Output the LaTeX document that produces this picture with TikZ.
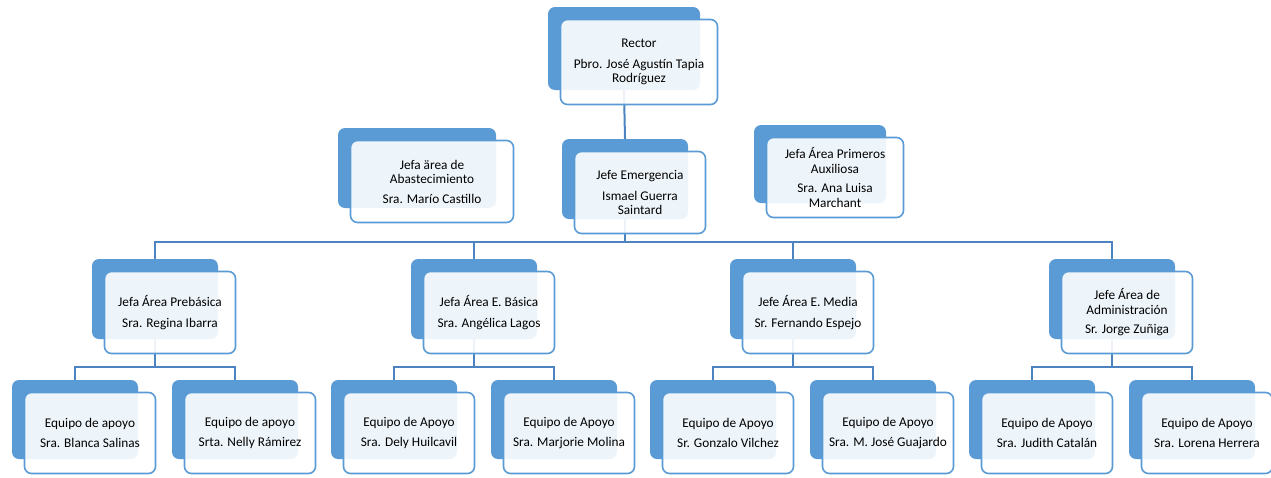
\documentclass[tikz,border=0pt]{standalone}
\usepackage{fontspec}
\setmainfont{Carlito}
\usetikzlibrary{positioning,calc}
\definecolor{orgblue}{RGB}{91,155,213}
\definecolor{linkblue}{RGB}{76,132,194}
\newcommand{\shiftx}{15}
\newcommand{\shifty}{13.5}
\pgfdeclarelayer{background}
\pgfsetlayers{background,main}
% back box, then the lighter box in front carrying the text
\newcommand{\orgunit}[6]{%
  \node[backbox,minimum width=#4pt,minimum height=#5pt] (#1) at (#2,#3) {};
  \node[frontbox,minimum width=#4pt+5pt,minimum height=#5pt+2pt] (#1-f) at ($(#1)+(\shiftx,\shifty)$) {#6};
}

\begin{document}
\begin{tikzpicture}[x=1pt,y=-1pt,
    backbox/.style={rectangle,rounded corners=7pt,fill=orgblue,inner sep=0pt},
    frontbox/.style={rectangle,rounded corners=7pt,draw=orgblue,line width=1.6pt,
      fill=white,fill opacity=0.9,text opacity=1,align=center,inner sep=1pt,
      font=\fontsize{13.3}{14.5}\selectfont},
    link/.style={draw=linkblue,line width=2pt}]
  \useasboundingbox (0,0) rectangle (1271,477);
  %\draw[help lines] (0,0) grid (1271,477);

  % top
  \orgunit{rector}{624}{48.5}{152}{83}{Rector\\[6pt]Pbro. José Agustín Tapia\\Rodríguez}
  \orgunit{abast}{417}{168}{158}{80}{Jefa ärea de\\Abastecimiento\\[5pt]Sra. Marío Castillo}
  \orgunit{emerg}{625}{179}{126}{80}{Jefe Emergencia\\[6pt]Ismael Guerra\\Saintard}
  \orgunit{prim}{820}{164}{132}{78}{Jefa Área Primeros\\Auxiliosa\\[5pt]Sra. Ana Luisa\\Marchant}

  % areas
  \orgunit{pre}{155}{299}{126}{80}{Jefa Área Prebásica\\[6pt]Sra. Regina Ibarra}
  \orgunit{bas}{474}{299}{126}{80}{Jefa Área E. Básica\\[6pt]Sra. Angélica Lagos}
  \orgunit{med}{793}{299}{126}{80}{Jefe Área E. Media\\[6pt]Sr. Fernando Espejo}
  \orgunit{adm}{1112}{299}{126}{80}{Jefe Área de\\Administración\\[5pt]Sr. Jorge Zuñiga}

  % support teams
  \orgunit{preA}{75}{419.5}{126}{79}{Equipo de apoyo\\[5pt]Sra. Blanca Salinas}
  \orgunit{preB}{235}{419.5}{126}{79}{Equipo de apoyo\\[5pt]Srta. Nelly Rámirez}
  \orgunit{basA}{394}{419.5}{126}{79}{Equipo de Apoyo\\[5pt]Sra. Dely Huilcavil}
  \orgunit{basB}{554}{419.5}{126}{79}{Equipo de Apoyo\\[5pt]Sra. Marjorie Molina}
  \orgunit{medA}{713}{419.5}{126}{79}{Equipo de Apoyo\\[5pt]Sr. Gonzalo Vilchez}
  \orgunit{medB}{873}{419.5}{126}{79}{Equipo de Apoyo\\[5pt]Sra. M. José Guajardo}
  \orgunit{admA}{1032}{419.5}{126}{79}{Equipo de Apoyo\\[5pt]Sra. Judith Catalán}
  \orgunit{admB}{1192}{419.5}{126}{79}{Equipo de Apoyo\\[5pt]Sra. Lorena Herrera}

  % connectors
  \begin{pgfonlayer}{background}
    \draw[link] (rector.south) -- (emerg.north);
    \draw[link] (emerg.south) -- ++(0,23) coordinate (topbus);
    \foreach \n in {pre,bas,med,adm}{
      \draw[link] (\n.north) |- (topbus);
      \draw[link] (\n.south) -- ++(0,28) coordinate (\n-bus);
      \draw[link] (\n A.north) |- (\n-bus);
      \draw[link] (\n B.north) |- (\n-bus);
    }
  \end{pgfonlayer}
\end{tikzpicture}
\end{document}
